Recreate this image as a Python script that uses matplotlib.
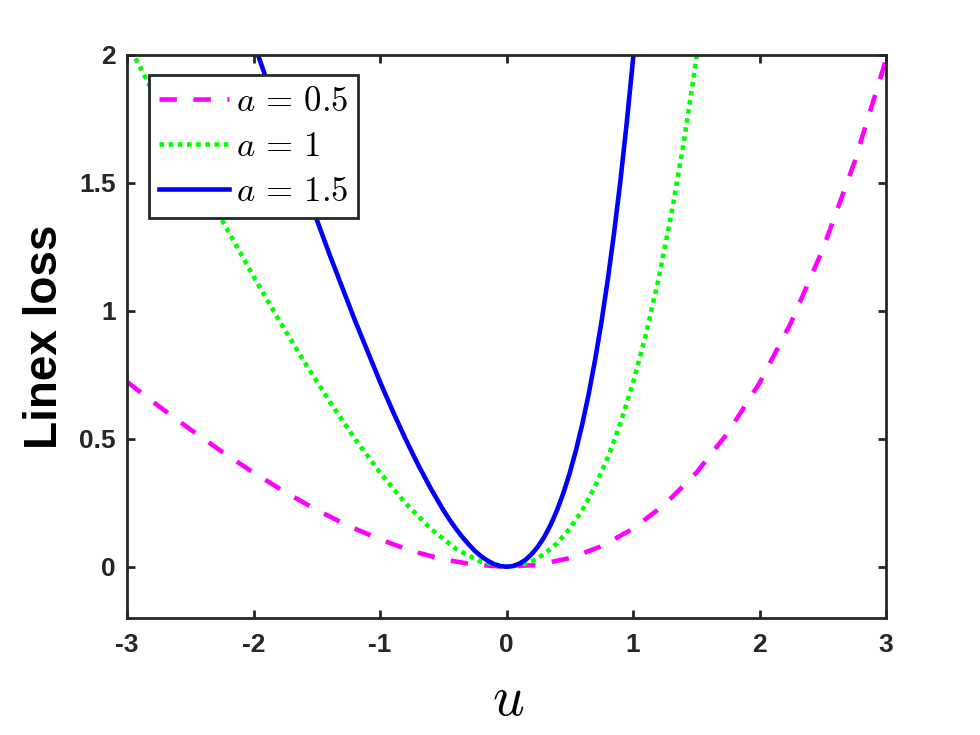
import matplotlib
matplotlib.use("Agg")
import matplotlib.pyplot as plt

plt.rcParams['font.family'] = ['Liberation Sans', 'DejaVu Sans']
plt.rcParams['mathtext.fontset'] = 'cm'
plt.rcParams['axes.unicode_minus'] = False

# values
u_05 = [-3, -2.75, -2.5, -2.25, -2, -1.75, -1.5, -1.25, -1, -0.75, -0.5, -0.25, 0,
        0.25, 0.5, 0.75, 1, 1.25, 1.5, 1.75, 2, 2.25, 2.5, 2.75, 3]
loss_05 = [0.723, 0.628, 0.537, 0.450, 0.368, 0.292, 0.222, 0.160, 0.107, 0.062, 0.029, 0.008, 0,
           0.008, 0.034, 0.080, 0.149, 0.243, 0.367, 0.524, 0.718, 0.955, 1.240, 1.580, 1.982]

u_1 = [-3, -2.8, -2.6, -2.4, -2.2, -2, -1.8, -1.6, -1.4, -1.2, -1, -0.8, -0.6, -0.4, -0.2, 0,
       0.1, 0.2, 0.3, 0.4, 0.5, 0.6, 0.7, 0.8, 0.9, 1, 1.1, 1.2, 1.3, 1.4, 1.5, 1.6]
loss_1 = [2.050, 1.861, 1.674, 1.491, 1.311, 1.135, 0.965, 0.802, 0.647, 0.501, 0.368, 0.249,
          0.149, 0.070, 0.019, 0,
          0.005, 0.021, 0.050, 0.092, 0.149, 0.222, 0.314, 0.426, 0.560, 0.718, 0.904, 1.120,
          1.369, 1.655, 1.982, 2.353]

u_15 = [-2, -1.8, -1.6, -1.4, -1.2, -1, -0.9, -0.8, -0.7, -0.6, -0.5, -0.45, -0.4, -0.35, -0.3,
        -0.25, -0.2, -0.15, -0.1, -0.05, 0, 0.05, 0.1, 0.15, 0.2, 0.25, 0.3, 0.35, 0.4, 0.45,
        0.5, 0.55, 0.6, 0.65, 0.7, 0.75, 0.8, 0.85, 0.9, 0.95, 1, 1.05]
loss_15 = [2.050, 1.767, 1.491, 1.222, 0.965, 0.723, 0.609, 0.501, 0.400, 0.307, 0.222, 0.184,
           0.149, 0.117, 0.088, 0.062, 0.041, 0.024, 0.011, 0.003, 0, 0.003, 0.012, 0.027,
           0.050, 0.080, 0.118, 0.165, 0.222, 0.289, 0.367, 0.457, 0.560, 0.676, 0.808, 0.955,
           1.120, 1.304, 1.507, 1.733, 1.982, 2.256]

labels = [r'$a\,=\,0.5$', r'$a\,=\,1$', r'$a\,=\,1.5$']
xticks = [-3, -2, -1, 0, 1, 2, 3]
xticklabels = ['-3', '-2', '-1', '0', '1', '2', '3']
yticks = [0, 0.5, 1, 1.5, 2]
yticklabels = ['0', '0.5', '1', '1.5', '2']

fig = plt.figure(figsize=(9.8, 7.35), dpi=100)
ax = fig.add_axes([0.1296, 0.1592, 0.7745, 0.766])

lw = 3.3
ax.plot(u_05, loss_05, color='#ff00ff', lw=lw, linestyle=(0, (3.8, 3.6)), label=labels[0])
ax.plot(u_1, loss_1, color='#00ff00', lw=lw, linestyle=(0, (1, 1)), label=labels[1])
ax.plot(u_15, loss_15, color='#0000ff', lw=lw, linestyle='-', label=labels[2])

ax.set_xlim(-3, 3)
ax.set_ylim(-0.2, 2)
ax.set_xticks(xticks)
ax.set_xticklabels(xticklabels)
ax.set_yticks(yticks)
ax.set_yticklabels(yticklabels)

edge = '#262626'
for s in ax.spines.values():
    s.set_linewidth(2.0)
    s.set_color(edge)
ax.tick_params(direction='in', length=6, width=2.0, color=edge, labelcolor=edge,
               labelsize=19, top=True, right=True)
ax.tick_params(axis='x', pad=11)
ax.tick_params(axis='y', pad=8)
for t in ax.get_xticklabels() + ax.get_yticklabels():
    t.set_fontweight('bold')

ax.set_ylabel('Linex loss', fontsize=33, fontweight='bold', color='black', va='center')
ax.yaxis.set_label_coords(-0.1087, 0.5)
ax.set_xlabel(r'$u$', fontsize=40, va='baseline')
ax.xaxis.set_label_coords(0.502, -0.172)

leg = ax.legend(loc='upper left', bbox_to_anchor=(0.029, 0.9645), borderaxespad=0,
                fontsize=25, handlelength=2.0, handletextpad=0.2, labelspacing=0.34,
                borderpad=0.3, fancybox=False, framealpha=1, edgecolor=edge)
leg.get_frame().set_linewidth(2.0)

fig.savefig('out.png', dpi=100)
